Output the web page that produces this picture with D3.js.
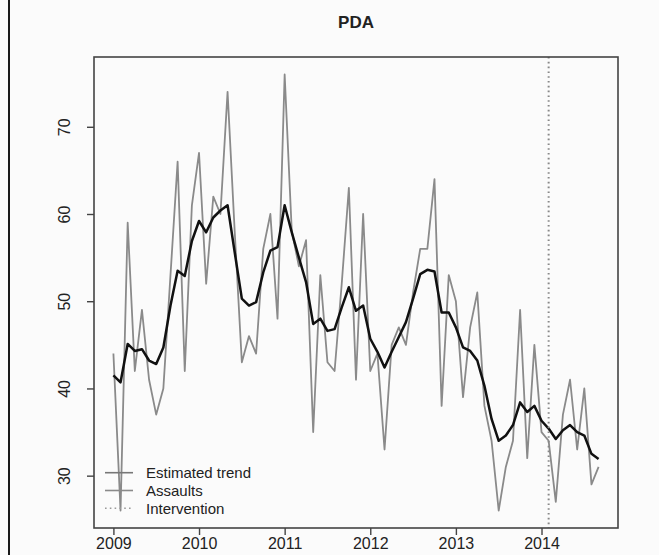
<!DOCTYPE html>
<html>
<head>
<meta charset="utf-8">
<script src="https://cdn.jsdelivr.net/npm/d3@7"></script>
<style>
  html, body { margin: 0; padding: 0; background: #fbfbfb; }
  svg { display: block; }
  text { font-family: "Liberation Sans", Arial, Helvetica, sans-serif; fill: #222; }
</style>
</head>
<body>
<div id="chart"></div>
<script>
// ---- Data (monthly, Jan 2009 – Sep 2014) ----
const startYear = 2009;
const assaults = [
  44, 26, 59, 42, 49, 41, 37, 40, 53, 66, 42, 61,   // 2009
  67, 52, 62, 60, 74, 58, 43, 46, 44, 56, 60, 48,   // 2010
  76, 58, 54, 57, 35, 53, 43, 42, 52, 63, 41, 60,   // 2011
  42, 44, 33, 45, 47, 45, 51, 56, 56, 64, 38, 53,   // 2012
  50, 39, 47, 51, 38, 34, 26, 31, 34, 49, 32, 45,   // 2013
  35, 34, 27, 37, 41, 33, 40, 29, 31                // 2014
];
const trend = [
  41.5, 40.7, 45.1, 44.3, 44.5, 43.2, 42.8, 44.7, 49.5, 53.5, 52.9, 56.9,
  59.2, 57.9, 59.6, 60.4, 61.0, 55.6, 50.3, 49.5, 49.9, 53.3, 55.8, 56.2,
  61.0, 57.9, 55.0, 52.2, 47.4, 48.0, 46.6, 46.8, 49.3, 51.6, 48.9, 49.5,
  45.7, 44.2, 42.4, 44.2, 45.9, 47.6, 50.3, 53.1, 53.6, 53.4, 48.7, 48.7,
  47.0, 44.7, 44.3, 43.2, 40.3, 36.5, 34.0, 34.6, 35.8, 38.4, 37.3, 38.0,
  36.3, 35.4, 34.2, 35.2, 35.8, 35.0, 34.6, 32.5, 31.9
];
const intervention = 2014 + 1 / 12;
const xTicks = [2009, 2010, 2011, 2012, 2013, 2014];
const yTicks = [30, 40, 50, 60, 70];
const legendLabels = ["Estimated trend", "Assaults", "Intervention"];
const title = "PDA";

// ---- Layout ----
const W = 659, H = 555;
const plot = { left: 94, right: 618, top: 57, bottom: 528 };

const times = assaults.map((_, i) => startYear + i / 12);
const xMin = d3.min(times), xMax = d3.max(times);
const xPad = (xMax - xMin) * 0.04;
const yMin = Math.min(d3.min(assaults), d3.min(trend));
const yMax = Math.max(d3.max(assaults), d3.max(trend));
const yPad = (yMax - yMin) * 0.04;

const x = d3.scaleLinear().domain([xMin - xPad, xMax + xPad]).range([plot.left, plot.right]);
const y = d3.scaleLinear().domain([yMin - yPad, yMax + yPad]).range([plot.bottom, plot.top]);

const svg = d3.select("#chart").append("svg").attr("width", W).attr("height", H);
svg.append("rect").attr("width", W).attr("height", H).attr("fill", "#fbfbfb");

// scan edge line on the left
svg.append("line").attr("x1", 9).attr("x2", 9).attr("y1", 0).attr("y2", H)
  .attr("stroke", "#1a1a1a").attr("stroke-width", 2);

// title
svg.append("text").attr("x", (plot.left + plot.right) / 2).attr("y", 28)
  .attr("text-anchor", "middle").attr("font-weight", "bold").attr("font-size", 17)
  .text(title);

// clip
svg.append("clipPath").attr("id", "clip").append("rect")
  .attr("x", plot.left).attr("y", plot.top)
  .attr("width", plot.right - plot.left).attr("height", plot.bottom - plot.top);

const g = svg.append("g").attr("clip-path", "url(#clip)");

const line = d3.line().x((d, i) => x(times[i])).y(d => y(d));

// assaults
g.append("path").datum(assaults).attr("d", line)
  .attr("fill", "none").attr("stroke", "#8a8a8a").attr("stroke-width", 1.8)
  .attr("stroke-linejoin", "round");

// trend
g.append("path").datum(trend).attr("d", line)
  .attr("fill", "none").attr("stroke", "#111").attr("stroke-width", 2.5)
  .attr("stroke-linejoin", "round");

// intervention
g.append("line").attr("x1", x(intervention)).attr("x2", x(intervention))
  .attr("y1", plot.top).attr("y2", plot.bottom)
  .attr("stroke", "#888").attr("stroke-width", 2).attr("stroke-dasharray", "1.6,3.2");

// box
svg.append("rect").attr("x", plot.left).attr("y", plot.top)
  .attr("width", plot.right - plot.left).attr("height", plot.bottom - plot.top)
  .attr("fill", "none").attr("stroke", "#444").attr("stroke-width", 1.6);

// x axis
const xAxis = d3.axisBottom(x).tickValues(xTicks).tickFormat(d3.format("d")).tickSize(7).tickPadding(3);
const gx = svg.append("g").attr("transform", `translate(0,${plot.bottom})`).call(xAxis);
gx.select(".domain").remove();
gx.selectAll("line").attr("stroke", "#444").attr("stroke-width", 1.4);
gx.selectAll("text").attr("font-size", 16).attr("fill", "#222")
  .attr("font-family", "'Liberation Sans', Arial, sans-serif");

// y axis
const yAxis = d3.axisLeft(y).tickValues(yTicks).tickSize(7).tickPadding(0);
const gy = svg.append("g").attr("transform", `translate(${plot.left},0)`).call(yAxis);
gy.select(".domain").remove();
gy.selectAll("line").attr("stroke", "#444").attr("stroke-width", 1.4);
gy.selectAll("text")
  .attr("font-size", 16).attr("fill", "#222")
  .attr("font-family", "'Liberation Sans', Arial, sans-serif")
  .attr("text-anchor", "middle").attr("dy", null)
  .attr("x", null)
  .attr("transform", "translate(-30,0) rotate(-90)")
  .attr("dominant-baseline", "central");

// legend
const legY = [472.7, 490.5, 508.3];
const legStyles = [
  { stroke: "#777", width: 1.6, dash: null },
  { stroke: "#8a8a8a", width: 1.6, dash: null },
  { stroke: "#999", width: 1.6, dash: "1.6,3.2" }
];
const lg = svg.append("g");
legendLabels.forEach((lab, i) => {
  lg.append("line").attr("x1", 105).attr("x2", 133).attr("y1", legY[i]).attr("y2", legY[i])
    .attr("stroke", legStyles[i].stroke).attr("stroke-width", legStyles[i].width)
    .attr("stroke-dasharray", legStyles[i].dash);
  lg.append("text").attr("x", 146).attr("y", legY[i]).attr("dominant-baseline", "central")
    .attr("font-size", 15).text(lab);
});
</script>
</body>
</html>
